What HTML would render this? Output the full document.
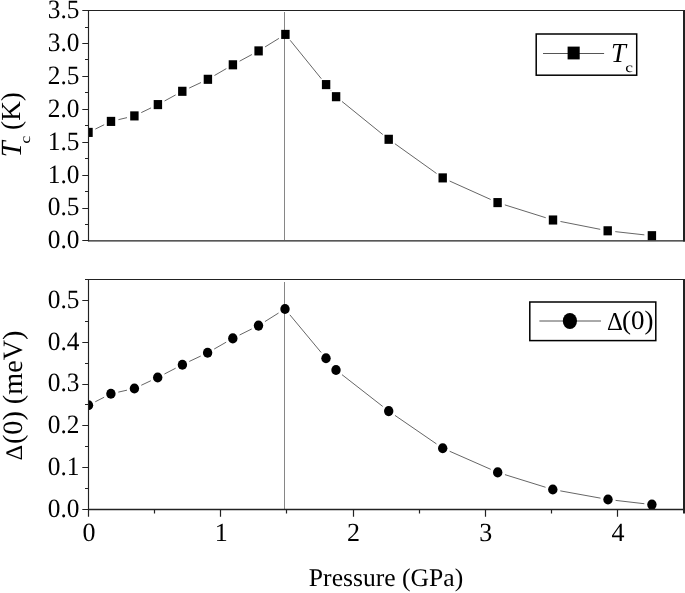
<!DOCTYPE html>
<html><head><meta charset="utf-8"><style>
html,body{margin:0;padding:0;background:#fff;overflow:hidden}
svg{display:block;will-change:transform}
text{font-family:"Liberation Serif",serif;text-rendering:geometricPrecision}
</style></head><body>
<svg width="685" height="593" viewBox="0 0 685 593"><rect width="685" height="593" fill="#fff"/><defs><clipPath id="pa"><rect x="88.5" y="0" width="596" height="593"/></clipPath></defs><g clip-path="url(#pa)"><path d="M284.5 12V240M284.5 282V509" stroke="#868686" stroke-width="1" fill="none"/><path d="M95.33 129.06L104.17 124.74M118.40 119.66L127.00 117.64M141.25 112.61L151.05 107.89M164.57 100.96L175.63 94.94M189.18 88.07L201.02 82.53M214.47 75.49L226.33 68.61M239.58 61.18L251.92 54.52M265.07 46.92L278.93 38.38M290.19 40.30L321.31 78.70M330.94 90.46L331.26 90.84M342.01 101.48L382.79 134.52M394.88 143.72L436.52 173.48M449.63 181.02L490.67 199.48M504.85 204.88L545.75 217.72M560.46 221.47L600.24 229.33M615.25 231.64L644.35 234.86M95.27 401.75L104.13 397.25M118.31 392.13L126.99 390.17M141.27 385.26L150.83 380.74M164.45 374.00L175.65 368.20M189.27 361.45L200.73 356.05M214.20 349.03L226.20 342.17M239.60 335.01L251.70 328.99M264.94 321.57L278.56 313.03M289.86 314.84L321.14 352.46M330.94 364.08L331.06 364.22M341.99 374.67L382.71 406.43M394.96 415.40L436.44 443.90M449.66 451.26L490.74 469.34M504.96 474.65L545.54 487.25M560.28 490.85L600.52 498.15M615.55 500.38L644.35 503.72" stroke="#666" stroke-width="1" fill="none"/><rect x="84.30" y="127.85" width="8.4" height="9.1" fill="#000"/><rect x="106.80" y="116.85" width="8.4" height="9.1" fill="#000"/><rect x="130.20" y="111.35" width="8.4" height="9.1" fill="#000"/><rect x="153.70" y="100.05" width="8.4" height="9.1" fill="#000"/><rect x="178.10" y="86.75" width="8.4" height="9.1" fill="#000"/><rect x="203.70" y="74.75" width="8.4" height="9.1" fill="#000"/><rect x="228.70" y="60.25" width="8.4" height="9.1" fill="#000"/><rect x="254.40" y="46.35" width="8.4" height="9.1" fill="#000"/><rect x="281.20" y="29.85" width="8.4" height="9.1" fill="#000"/><rect x="321.90" y="80.05" width="8.4" height="9.1" fill="#000"/><rect x="331.90" y="92.15" width="8.4" height="9.1" fill="#000"/><rect x="384.50" y="134.75" width="8.4" height="9.1" fill="#000"/><rect x="438.50" y="173.35" width="8.4" height="9.1" fill="#000"/><rect x="493.40" y="198.05" width="8.4" height="9.1" fill="#000"/><rect x="548.80" y="215.45" width="8.4" height="9.1" fill="#000"/><rect x="603.50" y="226.25" width="8.4" height="9.1" fill="#000"/><rect x="647.70" y="231.15" width="8.4" height="9.1" fill="#000"/><ellipse cx="88.5" cy="405.2" rx="4.7" ry="5.05" fill="#000"/><ellipse cx="110.9" cy="393.8" rx="4.7" ry="5.05" fill="#000"/><ellipse cx="134.4" cy="388.5" rx="4.7" ry="5.05" fill="#000"/><ellipse cx="157.7" cy="377.5" rx="4.7" ry="5.05" fill="#000"/><ellipse cx="182.4" cy="364.7" rx="4.7" ry="5.05" fill="#000"/><ellipse cx="207.6" cy="352.8" rx="4.7" ry="5.05" fill="#000"/><ellipse cx="232.8" cy="338.4" rx="4.7" ry="5.05" fill="#000"/><ellipse cx="258.5" cy="325.6" rx="4.7" ry="5.05" fill="#000"/><ellipse cx="285" cy="309" rx="4.7" ry="5.05" fill="#000"/><ellipse cx="326" cy="358.3" rx="4.7" ry="5.05" fill="#000"/><ellipse cx="336" cy="370" rx="4.7" ry="5.05" fill="#000"/><ellipse cx="388.7" cy="411.1" rx="4.7" ry="5.05" fill="#000"/><ellipse cx="442.7" cy="448.2" rx="4.7" ry="5.05" fill="#000"/><ellipse cx="497.7" cy="472.4" rx="4.7" ry="5.05" fill="#000"/><ellipse cx="552.8" cy="489.5" rx="4.7" ry="5.05" fill="#000"/><ellipse cx="608" cy="499.5" rx="4.7" ry="5.05" fill="#000"/><ellipse cx="651.9" cy="504.6" rx="4.7" ry="5.05" fill="#000"/></g><path d="M88.5 10.5H685M88.5 279.5H685" stroke="#222" stroke-width="1.15" fill="none"/><path d="M88.5 240.9H685M88.5 509.5H685" stroke="#222" stroke-width="1.3" fill="none"/><path d="M88.5 10V241.5M88.5 279V510" stroke="#222" stroke-width="1.15" fill="none"/><path d="M684 10V241.5M684 279V513.6" stroke="#222" stroke-width="2" fill="none"/><path d="M82.3 240.50H88.5M85.0 224.50H88.5M82.3 208.50H88.5M85.0 191.50H88.5M82.3 175.50H88.5M85.0 158.50H88.5M82.3 142.50H88.5M85.0 125.50H88.5M82.3 109.50H88.5M85.0 92.50H88.5M82.3 76.50H88.5M85.0 59.50H88.5M82.3 43.50H88.5M85.0 27.50H88.5M82.3 10.50H88.5M82.3 509.50H88.5M85.0 488.50H88.5M82.3 467.50H88.5M85.0 446.50H88.5M82.3 425.50H88.5M85.0 404.50H88.5M82.3 384.50H88.5M85.0 363.50H88.5M82.3 342.50H88.5M85.0 321.50H88.5M82.3 300.50H88.5M85.0 279.50H88.5M88.50 509.5V516.7M154.50 509.5V513.6M220.50 509.5V516.7M286.50 509.5V513.6M353.50 509.5V516.7M419.50 509.5V513.6M485.50 509.5V516.7M551.50 509.5V513.6M617.50 509.5V516.7" stroke="#222" stroke-width="1.2" fill="none"/><g font-size="26" fill="#000"><text transform="translate(79.5 248.35) scale(0.975 1.017)" text-anchor="end">0.0</text><text transform="translate(79.5 215.45) scale(0.975 1.017)" text-anchor="end">0.5</text><text transform="translate(79.5 182.55) scale(0.975 1.017)" text-anchor="end">1.0</text><text transform="translate(79.5 149.65) scale(0.975 1.017)" text-anchor="end">1.5</text><text transform="translate(79.5 116.75) scale(0.975 1.017)" text-anchor="end">2.0</text><text transform="translate(79.5 83.85) scale(0.975 1.017)" text-anchor="end">2.5</text><text transform="translate(79.5 50.95) scale(0.975 1.017)" text-anchor="end">3.0</text><text transform="translate(79.5 18.05) scale(0.975 1.017)" text-anchor="end">3.5</text><text transform="translate(79.5 516.95) scale(0.975 1.017)" text-anchor="end">0.0</text><text transform="translate(79.5 475.13) scale(0.975 1.017)" text-anchor="end">0.1</text><text transform="translate(79.5 433.31) scale(0.975 1.017)" text-anchor="end">0.2</text><text transform="translate(79.5 391.49) scale(0.975 1.017)" text-anchor="end">0.3</text><text transform="translate(79.5 349.67) scale(0.975 1.017)" text-anchor="end">0.4</text><text transform="translate(79.5 307.85) scale(0.975 1.017)" text-anchor="end">0.5</text><text transform="translate(89.10 541.35) scale(1 1.01)" text-anchor="middle">0</text><text transform="translate(221.35 541.35) scale(1 1.01)" text-anchor="middle">1</text><text transform="translate(353.60 541.35) scale(1 1.01)" text-anchor="middle">2</text><text transform="translate(485.85 541.35) scale(1 1.01)" text-anchor="middle">3</text><text transform="translate(618.10 541.35) scale(1 1.01)" text-anchor="middle">4</text></g><g transform="translate(309.60 568.80) scale(0.9848 0.9787) translate(-300.75 -282.00)"><text x="300" y="300" font-size="26">Pressure (GPa)</text></g><g transform="translate(2.20 139.60) scale(1.0466 1.0194) translate(-281.75 -282.75)"><text transform="translate(300 300) rotate(-90)" font-size="28" font-style="italic">T</text></g><g transform="translate(23.10 136.30) scale(0.8364 1.0720) translate(-292.00 -293.00)"><text transform="translate(300 300) rotate(-90)" font-size="17">c</text></g><g transform="translate(1.50 93.50) scale(0.9840 0.9710) translate(-280.75 -262.50)"><text transform="translate(300 300) rotate(-90)" font-size="28">(K)</text></g><g transform="translate(6.50 445.80) scale(0.8486 0.8687) translate(-281.50 -283.00)"><text transform="translate(300 300) rotate(-90)" font-size="28">Δ</text></g><g transform="translate(2.40 331.85) scale(1.0020 1.0063) translate(-280.75 -188.50)"><text transform="translate(300 300) rotate(-90)" font-size="28">(0) (meV)</text></g><rect x="536.2" y="34" width="100.5" height="41.2" fill="#fff" stroke="#000" stroke-width="1.5"/><path d="M543 53.5H604.1" stroke="#555" stroke-width="1"/><rect x="567.6" y="46.6" width="12.1" height="12.8" fill="#000"/><g transform="translate(612.70 44.40) scale(0.9548 0.9863) translate(-301.75 -281.75)"><text x="300" y="300" font-size="28" font-style="italic">T</text></g><g transform="translate(625.90 65.60) scale(1.0240 0.8121) translate(-300.75 -292.00)"><text x="300" y="300" font-size="17">c</text></g><rect x="529.8" y="302" width="126" height="38.6" fill="#fff" stroke="#000" stroke-width="1.5"/><path d="M539.4 321H601" stroke="#555" stroke-width="1"/><ellipse cx="569.9" cy="321.0" rx="7.1" ry="8" fill="#000"/><g transform="translate(607.80 312.80) scale(0.8813 0.9189) translate(-301.00 -281.50)"><text x="300" y="300" font-size="28">Δ</text></g><g transform="translate(623.10 311.20) scale(0.9653 0.9480) translate(-301.25 -280.75)"><text x="300" y="300" font-size="28">(0)</text></g></svg>
</body></html>
